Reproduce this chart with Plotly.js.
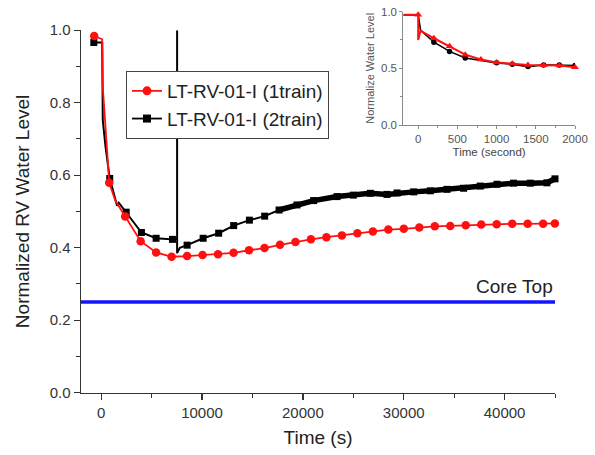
<!DOCTYPE html>
<html>
<head>
<meta charset="utf-8">
<script src="https://cdn.plot.ly/plotly-3.0.1.min.js"></script>
<style>html,body{margin:0;padding:0;background:#fff;}#chart{width:595px;height:455px;}</style>
</head>
<body>
<div id="chart"></div>
<script>
// ---------- main chart data ----------
const seriesNames = ["LT-RV-01-I (1train)", "LT-RV-01-I (2train)"];

const redT = [-690, 100, 160, 360, 555, 800, 1400, 2380, 3915, 5450, 6985, 8520, 10055, 11590, 13125, 14660, 16195, 17730, 19265, 20800, 22335, 23870, 25405, 26940, 28475, 30010, 31545, 33080, 34615, 36150, 37685, 39220, 40755, 42290, 43825, 44990];
const redLevel = [0.984, 0.975, 0.844, 0.752, 0.660, 0.579, 0.530, 0.486, 0.418, 0.387, 0.375, 0.377, 0.380, 0.382, 0.386, 0.393, 0.399, 0.408, 0.416, 0.423, 0.429, 0.434, 0.440, 0.445, 0.450, 0.452, 0.456, 0.459, 0.460, 0.462, 0.464, 0.465, 0.466, 0.466, 0.466, 0.467];
const redMarkT = [-690, 800, 2380, 3915, 5450, 6985, 8520, 10055, 11590, 13125, 14660, 16195, 17730, 19265, 20800, 22335, 23870, 25405, 26940, 28475, 30010, 31545, 33080, 34615, 36150, 37685, 39220, 40755, 42290, 43825, 44990];

const blackT = [-730, 100, 160, 430, 850, 1400, 1580, 1750, 2480, 3990, 5450, 7070, 7530, 7530, 7530, 7800, 8520, 10110, 11650, 13140, 14700, 16210, 17640, 19420, 21070, 23390, 25000, 26690, 28340, 29340, 30990, 32640, 34290, 35940, 37590, 39250, 40890, 42550, 44200, 45000];
const blackLevel = [0.966, 0.966, 0.752, 0.679, 0.591, 0.535, 0.516, 0.524, 0.498, 0.442, 0.426, 0.423, 0.422, 1.0, 0.385, 0.400, 0.407, 0.426, 0.440, 0.461, 0.476, 0.487, 0.504, 0.518, 0.530, 0.541, 0.545, 0.550, 0.547, 0.551, 0.554, 0.557, 0.561, 0.564, 0.570, 0.575, 0.578, 0.578, 0.579, 0.590];
const blackMarkT = [-730, 850, 2480, 3990, 5450, 7070, 8520, 10110, 11650, 13140, 14700, 16210, 17640, 19420, 21070, 23390, 25000, 26690, 28340, 29340, 30990, 32640, 34290, 35940, 37590, 39250, 40890, 42550, 44200, 45000];
const blackBandStart = 17640;

const coreTopT = [-2000, 45000];
const coreTopLevel = [0.25, 0.25];
const coreTopLabel = "Core Top";

// ---------- inset data ----------
const insetRedT = [-190, 0, 0, 30, 200, 400, 600, 800, 1000, 1200, 1400, 1600, 1800, 2000];
const insetRedLevel = [0.973, 0.973, 0.75, 0.832, 0.765, 0.695, 0.62, 0.577, 0.552, 0.54, 0.528, 0.527, 0.525, 0.51];
const insetRedMarkT = [0, 200, 400, 600, 800, 1000, 1200, 1400, 1600, 1800, 2000];

const insetBlackT = [-190, 0, 30, 200, 400, 600, 720, 1000, 1200, 1400, 1600, 1800, 2000];
const insetBlackLevel = [0.97, 0.97, 0.836, 0.73, 0.649, 0.59, 0.578, 0.548, 0.536, 0.515, 0.53, 0.53, 0.525];
const insetBlackMarkT = [200, 400, 600, 1000, 1200, 1400, 1600, 1800, 2000];

// ---------- helpers ----------
function pick(ts, vs, keep) {
  const x = [], y = [];
  ts.forEach((t, i) => { if (keep(t, i)) { x.push(t); y.push(vs[i]); } });
  return {x, y};
}
const inList = list => (t) => list.indexOf(t) >= 0;

const RED = '#ff1010';
const BLK = '#000000';
const FONT = 'Arial, "Liberation Sans", sans-serif';

const redM = pick(redT, redLevel, inList(redMarkT));
const blkM = pick(blackT, blackLevel, inList(blackMarkT));
const blkBand = pick(blackT, blackLevel, (t, i) => t >= blackBandStart && i > 14);
const iRedM = pick(insetRedT, insetRedLevel, (t, i) => insetRedMarkT.indexOf(t) >= 0 && !(t === 0 && i === 2));
const iBlkM = pick(insetBlackT, insetBlackLevel, inList(insetBlackMarkT));

const traces = [
  {x: coreTopT, y: coreTopLevel, mode: 'lines', line: {color: '#1414ff', width: 3.5}, showlegend: false, hoverinfo: 'skip'},
  {x: blackT, y: blackLevel, mode: 'lines', line: {color: BLK, width: 2}, showlegend: false},
  {x: blkBand.x, y: blkBand.y, mode: 'lines', line: {color: BLK, width: 5.5}, showlegend: false},
  {x: blkM.x, y: blkM.y, mode: 'markers', marker: {symbol: 'square', size: 7, color: BLK}, showlegend: false, cliponaxis: false},
  {x: redT, y: redLevel, mode: 'lines', line: {color: RED, width: 1.8}, showlegend: false},
  {x: redM.x, y: redM.y, mode: 'markers', marker: {symbol: 'circle', size: 8.5, color: RED}, showlegend: false, cliponaxis: false},
  {x: [null], y: [null], name: seriesNames[0], mode: 'lines+markers', line: {color: RED, width: 1.8}, marker: {symbol: 'circle', size: 9, color: RED}},
  {x: [null], y: [null], name: seriesNames[1], mode: 'lines+markers', line: {color: BLK, width: 1.8}, marker: {symbol: 'square', size: 8, color: BLK}},
  {x: insetBlackT, y: insetBlackLevel, xaxis: 'x2', yaxis: 'y2', mode: 'lines', line: {color: BLK, width: 1.6}, showlegend: false},
  {x: iBlkM.x, y: iBlkM.y, xaxis: 'x2', yaxis: 'y2', mode: 'markers', marker: {symbol: 'circle', size: 5.5, color: BLK}, showlegend: false},
  {x: insetRedT, y: insetRedLevel, xaxis: 'x2', yaxis: 'y2', mode: 'lines', line: {color: RED, width: 2}, showlegend: false},
  {x: iRedM.x, y: iRedM.y, xaxis: 'x2', yaxis: 'y2', mode: 'markers', marker: {symbol: 'triangle-up', size: 7, color: RED}, showlegend: false, cliponaxis: false}
];

const W = 595, H = 455;
const axMain = {
  showline: true, linecolor: '#333', linewidth: 1.5, mirror: false,
  ticks: 'outside', ticklen: 6, tickwidth: 1.3, tickcolor: '#333',
  showgrid: false, zeroline: false,
  tickfont: {family: FONT, size: 15, color: '#333'}
};
const axInset = {
  showline: true, linecolor: '#888', linewidth: 1, mirror: false,
  ticks: 'outside', ticklen: 3, tickwidth: 1, tickcolor: '#888',
  showgrid: false, zeroline: false,
  tickfont: {family: FONT, size: 11.5, color: '#555'}
};

const layout = {
  width: W, height: H,
  margin: {l: 0, r: 0, t: 0, b: 0},
  paper_bgcolor: '#fff', plot_bgcolor: 'rgba(0,0,0,0)',
  font: {family: FONT, color: '#222'},
  showlegend: true,
  legend: {
    x: 126 / W, y: 1 - 71 / H, xanchor: 'left', yanchor: 'top',
    bgcolor: '#fff', bordercolor: '#444', borderwidth: 1,
    font: {family: FONT, size: 19, color: '#222'},
    tracegroupgap: 0
  },
  xaxis: Object.assign({}, axMain, {
    domain: [81 / W, 555 / W], range: [-2000, 45000], anchor: 'y',
    tick0: 0, dtick: 10000, tickformat: 'd',
    minor: {dtick: 5000, ticklen: 3.5, tickcolor: '#333', tickwidth: 1, ticks: 'outside', showgrid: false},
    title: {text: 'Time (s)', font: {family: FONT, size: 19, color: '#222'}, standoff: 10}
  }),
  yaxis: Object.assign({}, axMain, {
    domain: [1 - 392.7 / H, 1 - 30.2 / H], range: [0, 1], anchor: 'x',
    tick0: 0, dtick: 0.2, tickformat: '.1f',
    minor: {dtick: 0.1, ticklen: 3.5, tickcolor: '#333', tickwidth: 1, ticks: 'outside', showgrid: false},
    title: {text: 'Normalized RV Water Level', font: {family: FONT, size: 19, color: '#222'}, standoff: 15}
  }),
  xaxis2: Object.assign({}, axInset, {
    domain: [403.3 / W, 575 / W], range: [-190, 2000], anchor: 'y2',
    tick0: 0, dtick: 500,
    minor: {dtick: 250, ticklen: 2, tickcolor: '#888', ticks: 'outside', showgrid: false},
    title: {text: 'Time (second)', font: {family: FONT, size: 11.5, color: '#444'}, standoff: 4}
  }),
  yaxis2: Object.assign({}, axInset, {
    domain: [1 - 125 / H, 1 - 11.6 / H], range: [0, 1], anchor: 'x2',
    tick0: 0, dtick: 0.5, tickformat: '.1f',
    minor: {dtick: 0.25, ticklen: 2, tickcolor: '#888', ticks: 'outside', showgrid: false},
    title: {text: 'Normalize Water Level', font: {family: FONT, size: 11, color: '#555'}, standoff: 4}
  }),
  annotations: [{
    xref: 'x', yref: 'y', x: coreTopT[1], y: coreTopLevel[0],
    xanchor: 'right', yanchor: 'bottom', yshift: 3,
    text: coreTopLabel, showarrow: false,
    font: {family: FONT, size: 19, color: '#222'}
  }]
};

Plotly.newPlot('chart', traces, layout, {displayModeBar: false, staticPlot: true});
</script>
</body>
</html>
